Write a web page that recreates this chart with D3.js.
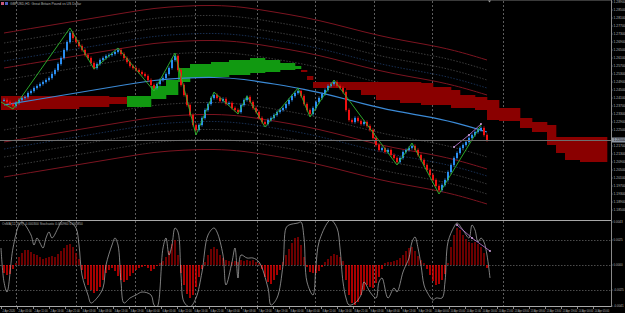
<!DOCTYPE html>
<html>
<head>
<meta charset="utf-8">
<script src="https://cdn.jsdelivr.net/npm/d3@7"></script>
<style>
body { margin: 0; background: #000; overflow: hidden; }
text { font-family: "Liberation Sans", Arial, sans-serif; }
</style>
</head>
<body>
<div id="chart"></div>
<script>
// ---- data (GBPUSD H1) ----
var closes = [
  1.2400,1.2390,1.2380,1.2370,
  1.2385,1.2400,1.2410,1.2415,1.2435,1.2445,1.2460,1.2470,1.2480,1.2490,1.2500,1.2510,1.2530,1.2550,1.2580,1.2610,1.2650,1.2690,1.2735,
  1.2710,1.2690,1.2670,1.2650,1.2625,1.2610,1.2585,1.2560,
  1.2580,1.2600,1.2610,1.2620,1.2625,1.2630,1.2640,1.2650,
  1.2630,1.2610,1.2590,1.2570,1.2560,1.2550,1.2540,1.2530,1.2520,1.2500,1.2475,1.2460,
  1.2480,1.2500,1.2510,1.2530,1.2560,1.2600,1.2620,
  1.2550,1.2475,1.2425,1.2375,1.2325,1.2275,1.2250,
  1.2275,1.2310,1.2350,1.2380,1.2410,1.2425,
  1.2410,1.2395,1.2405,1.2380,1.2385,1.2360,1.2350,1.2340,
  1.2375,1.2400,1.2415,
  1.2390,1.2360,1.2340,1.2310,1.2290,1.2280,
  1.2300,1.2310,1.2325,1.2340,1.2350,1.2360,1.2380,1.2400,1.2420,1.2435,1.2445,
  1.2420,1.2380,1.2350,1.2330,
  1.2360,1.2390,1.2410,1.2430,1.2450,1.2470,1.2480,1.2490,
  1.2470,1.2460,1.2440,1.2350,1.2300,1.2290,1.2310,1.2295,1.2280,1.2290,1.2270,1.2250,1.2210,1.2175,1.2150,1.2160,1.2140,1.2150,1.2125,1.2110,1.2090,
  1.2110,1.2140,1.2150,1.2160,1.2170,
  1.2150,1.2125,1.2100,1.2075,1.2050,1.2025,1.2000,1.1970,1.1950,
  1.1975,1.2000,1.2040,1.2075,1.2110,1.2135,1.2160,1.2175,1.2190,1.2210,1.2225,1.2240,1.2250,1.2260,
  1.2225,1.2200
];

// moving average (every 10 bars)
var maIdx = [0,10,20,30,40,50,60,70,80,90,100,110,120,130,140,150,161];
var maVal = [1.2375,1.2400,1.2425,1.2450,1.2475,1.2500,1.2510,1.2515,1.2505,1.2480,1.2455,1.2420,1.2380,1.2345,1.2320,1.2290,1.2240];

// envelope distances from the MA
var bandOffsets = [0.0360, 0.0310, 0.0260, 0.0220, 0.0185, 0.0125];
var bandKinds   = ["main", "dot", "dot", "blue", "main", "dot"];

// ichimoku cloud (shifted forward)
var cloudIdx = [-1,12,25,35,41,49,54,58,62,69,75,82,87,92,97,99,101,103,109,114,119,124,132,139,143,149,152,157,161,165,172,176,181,184,187,192,201];
var spanA = [1.2350,1.2355,1.2365,1.2380,1.2420,1.2470,1.2500,1.2560,1.2580,1.2590,1.2600,1.2610,1.2600,1.2585,1.2570,1.2540,1.2500,1.2460,1.2460,1.2450,1.2425,1.2400,1.2385,1.2375,1.2375,1.2360,1.2360,1.2350,1.2300,1.2295,1.2260,1.2240,1.2175,1.2135,1.2100,1.2090,1.2100];
var spanB = [1.2420,1.2420,1.2420,1.2415,1.2365,1.2405,1.2425,1.2490,1.2510,1.2515,1.2525,1.2535,1.2540,1.2550,1.2555,1.2550,1.2520,1.2490,1.2490,1.2490,1.2490,1.2490,1.2490,1.2485,1.2465,1.2450,1.2425,1.2415,1.2400,1.2360,1.2310,1.2290,1.2275,1.2215,1.2215,1.2215,1.2215];

// zigzag pivots
var zzIdx = [-1,3,22,30,38,50,57,64,70,78,81,87,98,102,110,131,136,145,159];
var zzVal = [1.2390,1.2355,1.2760,1.2555,1.2660,1.2445,1.2635,1.2225,1.2440,1.2330,1.2420,1.2265,1.2460,1.2315,1.2500,1.2075,1.2185,1.1930,1.2275];

// divergence marks
var divMainIdx = [150, 155, 159];
var divMainVal = [1.2165, 1.2225, 1.2280];
var divIndIdx = [151, 156, 162];
var divIndVal = [40, 27, 14];

// oscillator histogram (points)
var hist = [
  -8,-10,-9,-4,2,8,12,15,15,13,
  11,10,8,6,7,8,9,8,11,14,
  17,20,21,18,12,6,-5,-14,-20,-25,
  -28,-26,-22,-15,-8,-5,-3,-6,-11,-15,
  -17,-15,-11,-8,-5,-3,-2,-1,-3,-6,
  -4,-1,2,4,8,14,21,25,10,-8,
  -20,-29,-33,-30,-22,-12,-4,3,10,16,
  18,16,10,7,5,4,3,4,3,5,
  4,5,4,5,3,2,-4,-12,-17,-19,
  -15,-10,-5,3,10,16,22,27,28,20,
  8,-2,-7,-8,-8,-6,-2,3,6,9,
  11,10,8,4,-15,-30,-38,-40,-37,-30,
  -25,-20,-22,-23,-18,-12,-4,2,3,3,
  4,5,7,10,14,17,18,14,9,5,
  2,-4,-10,-16,-20,-19,-15,-9,2,18,
  30,37,35,30,26,23,22,23,21,18,
  12,-3
];

// signal line (points)
var oscIdx = [-1,0,1,3,5,6,9,10,11,12,13,14,15,16,18,19,20,22,24,25,26,28,29,31,33,34,36,37,38,39,40,42,44,46,49,50,51,53,54,55,56,57,58,59,60,62,64,66,68,70,71,73,74,76,77,78,79,81,83,85,88,89,91,93,94,95,98,
  99,100,101,103,104,105,108,109,111,112,113,114,115,117,119,120,122,124,125,126,128,130,131,133,134,135,136,137,138,139,140,141,143,144,146,147,148,150,151,153,155,156,157,158,159,160,161,162];
var oscVal = [17,-17,-27,17,40,43,30,20,27,22,17,27,33,27,37,43,45,43,37,20,-10,-30,-38,-33,-23,0,20,27,20,-17,-38,-33,-30,-27,-30,-40,-42,17,27,10,20,37,33,-10,-37,-42,-33,-7,30,37,33,10,-20,3,17,-13,10,7,7,3,-23,-40,-33,0,37,40,42,
  43,27,-17,-30,0,23,43,45,37,17,-17,-33,-40,-38,-30,-17,-27,-33,-17,-13,-33,-23,-27,-7,0,7,23,28,17,0,-20,-27,-35,-33,-33,-17,23,38,42,35,27,40,35,23,27,23,10,-13];

var indLevels = [25, 0, -25];
var indTicks = [43, 25, 0, -25, -41];

var priceTicks = [1.2890,1.2850,1.2810,1.2770,1.2730,1.2690,1.2650,1.2610,1.2570,1.2530,1.2490,1.2450,1.2410,1.2370,1.2330,1.2290,1.2250,1.2210,1.2170,1.2130,1.2090,1.2050,1.2010,1.1970,1.1930,1.1890,1.1850];

var daySeparators = [4, 24, 43.7, 63.7, 84.3, 103.7, 123.3, 142.7, 166.3];

var timeLabels = ["2 Apr 2020","2 Apr 05:00","2 Apr 11:00","2 Apr 16:00","2 Apr 21:00","3 Apr 03:00","3 Apr 08:00","3 Apr 13:00","3 Apr 19:00","6 Apr 00:00",
  "6 Apr 05:00","6 Apr 11:00","6 Apr 16:00","6 Apr 21:00","7 Apr 03:00","7 Apr 08:00","7 Apr 13:00","7 Apr 19:00","8 Apr 00:00","8 Apr 05:00",
  "8 Apr 11:00","8 Apr 16:00","8 Apr 21:00","9 Apr 03:00","9 Apr 08:00","9 Apr 13:00","9 Apr 19:00","10 Apr 00:00","10 Apr 05:00","10 Apr 11:00",
  "10 Apr 16:00","10 Apr 21:00","13 Apr 03:00","13 Apr 08:00","13 Apr 13:00","13 Apr 19:00","14 Apr 00:00","14 Apr 05:00"];

// ---- layout ----
var width = 625, height = 313;
var plotRight = 611;
var mainBottom = 219;
var indTop = 221, indBottom = 306;

var svg = d3.select("#chart")
  .append("svg")
  .attr("width", width)
  .attr("height", height)
  .style("display", "block")
  .style("background", "#000");

var xScale = d3.scaleLinear().domain([0, 161]).range([4, 487]);
var yMain = d3.scaleLinear().domain([1.1805, 1.29]).range([mainBottom, 0]);
var yInd = d3.scaleLinear().domain([-41, 44]).range([indBottom, indTop]);

var defs = svg.append("defs");
defs.append("clipPath").attr("id", "clipMain")
  .append("rect").attr("x", 0).attr("y", 0).attr("width", plotRight).attr("height", mainBottom);
defs.append("clipPath").attr("id", "clipInd")
  .append("rect").attr("x", 0).attr("y", indTop).attr("width", plotRight).attr("height", indBottom - indTop);

// top border
svg.append("line").attr("x1", 0).attr("x2", plotRight).attr("y1", 0.5).attr("y2", 0.5)
  .attr("stroke", "#3a3a3a");

// day separators
svg.append("g").selectAll("line")
  .data(daySeparators)
  .enter().append("line")
  .attr("x1", function(d){ return Math.round(xScale(d)) + 0.5; })
  .attr("x2", function(d){ return Math.round(xScale(d)) + 0.5; })
  .attr("y1", 1).attr("y2", indBottom)
  .attr("stroke", "#5c5c5c")
  .attr("stroke-dasharray", "2,2");

var mainG = svg.append("g").attr("clip-path", "url(#clipMain)");

// envelope bands
var bandLine = d3.line()
  .x(function(d){ return xScale(d[0]); })
  .y(function(d){ return yMain(d[1]); })
  .curve(d3.curveBasis);

bandOffsets.forEach(function(off, k){
  [1, -1].forEach(function(sign){
    var pts = maIdx.map(function(ix, j){ return [ix, maVal[j] + sign * off]; });
    var kind = bandKinds[k];
    mainG.append("path")
      .attr("d", bandLine(pts))
      .attr("fill", "none")
      .attr("stroke", kind == "main" ? "#7c1420" : (kind == "blue" ? "#1d3a66" : "#4a4a4a"))
      .attr("stroke-width", kind == "main" ? 1 : 0.8)
      .attr("stroke-dasharray", kind == "main" ? null : "1.5,1.5");
  });
});

// cloud
var cloud = cloudIdx.slice(0, -1).map(function(ix, j){
  return {x0: ix, x1: cloudIdx[j+1], a: spanA[j], b: spanB[j]};
});
mainG.append("g").selectAll("rect")
  .data(cloud)
  .enter().append("rect")
  .attr("x", function(d){ return xScale(d.x0); })
  .attr("width", function(d){ return xScale(d.x1) - xScale(d.x0) + 0.3; })
  .attr("y", function(d){ return yMain(Math.max(d.a, d.b)); })
  .attr("height", function(d){ return Math.abs(yMain(d.a) - yMain(d.b)); })
  .attr("fill", function(d){ return d.a > d.b ? "#119911" : "#8a0000"; });

// bid line
var lastClose = closes[closes.length - 1];
svg.append("line")
  .attr("x1", 0).attr("x2", plotRight)
  .attr("y1", Math.round(yMain(lastClose)) + 0.5).attr("y2", Math.round(yMain(lastClose)) + 0.5)
  .attr("stroke", "#6f6f6f");

// moving average
mainG.append("path")
  .attr("d", bandLine(maIdx.map(function(ix, j){ return [ix, maVal[j]]; })))
  .attr("fill", "none")
  .attr("stroke", "#3b8ad6")
  .attr("stroke-width", 1.2);

// candles
var wick = 0.0008;
var bars = closes.map(function(c, i){ return {i: i, o: i > 0 ? closes[i-1] : c, c: c}; });
function barColor(d){ return d.c >= d.o ? "#2a8df0" : "#f01010"; }

var candles = mainG.append("g").selectAll("g")
  .data(bars)
  .enter().append("g");
candles.append("line")
  .attr("x1", function(d){ return xScale(d.i); })
  .attr("x2", function(d){ return xScale(d.i); })
  .attr("y1", function(d){ return yMain(Math.max(d.o, d.c) + wick); })
  .attr("y2", function(d){ return yMain(Math.min(d.o, d.c) - wick); })
  .attr("stroke", barColor)
  .attr("stroke-width", 0.8);
candles.append("rect")
  .attr("x", function(d){ return xScale(d.i) - 1; })
  .attr("width", 2)
  .attr("y", function(d){ return yMain(Math.max(d.o, d.c)); })
  .attr("height", function(d){ return Math.max(1, Math.abs(yMain(d.o) - yMain(d.c))); })
  .attr("fill", barColor);

// zigzag
mainG.append("path")
  .attr("d", d3.line()
    .x(function(d){ return xScale(d[0]); })
    .y(function(d){ return yMain(d[1]); })(zzIdx.map(function(ix, j){ return [ix, zzVal[j]]; })))
  .attr("fill", "none")
  .attr("stroke", "#2fb82f")
  .attr("stroke-width", 0.9);

// divergence (main)
var divMain = divMainIdx.map(function(ix, j){ return [ix, divMainVal[j]]; });
mainG.append("path")
  .attr("d", d3.line().x(function(d){ return xScale(d[0]); }).y(function(d){ return yMain(d[1]); })(divMain))
  .attr("stroke", "#c77ee0").attr("stroke-width", 0.8).attr("fill", "none");
mainG.selectAll(".dm").data(divMain).enter().append("circle")
  .attr("cx", function(d){ return xScale(d[0]); })
  .attr("cy", function(d){ return yMain(d[1]); })
  .attr("r", 0.9).attr("fill", "#e0b0f0");

// chart title
svg.append("rect").attr("x", 1).attr("y", 2).attr("width", 3).attr("height", 3).attr("fill", "#c85a7a");
svg.append("rect").attr("x", 5).attr("y", 2).attr("width", 3).attr("height", 3).attr("fill", "#4a5ec0");
svg.append("text").attr("x", 10).attr("y", 5).attr("font-size", 3.4).attr("fill", "#b8b8b8")
  .text("GBPUSD,H1:  Great Britain Pound vs US Dollar");

// chart shift marker
svg.append("path")
  .attr("d", "M" + (xScale(161) + 1) + ",0.5 l3,0 l-1.5,2 z")
  .attr("fill", "#9a9a9a");

// ---- indicator panel ----
svg.append("line").attr("x1", 0).attr("x2", plotRight).attr("y1", indTop - 0.5).attr("y2", indTop - 0.5)
  .attr("stroke", "#a8a8a8");
svg.append("line").attr("x1", 0).attr("x2", plotRight).attr("y1", indBottom + 0.5).attr("y2", indBottom + 0.5)
  .attr("stroke", "#a8a8a8");

var indG = svg.append("g").attr("clip-path", "url(#clipInd)");

indG.selectAll(".lvl").data(indLevels).enter().append("line")
  .attr("x1", 0).attr("x2", plotRight)
  .attr("y1", function(d){ return Math.round(yInd(d)) + 0.5; })
  .attr("y2", function(d){ return Math.round(yInd(d)) + 0.5; })
  .attr("stroke", "#4c4c4c")
  .attr("stroke-dasharray", "1.5,1.5");

indG.append("g").selectAll("rect")
  .data(hist)
  .enter().append("rect")
  .attr("x", function(d, i){ return xScale(i) - 0.7; })
  .attr("width", 1.4)
  .attr("y", function(d){ return yInd(Math.max(d, 0)); })
  .attr("height", function(d){ return Math.abs(yInd(d) - yInd(0)); })
  .attr("fill", function(d){ return d >= 0 ? "#9a0000" : "#f00000"; });

indG.append("path")
  .attr("d", d3.line()
    .x(function(d){ return xScale(d[0]); })
    .y(function(d){ return yInd(d[1]); })
    .curve(d3.curveCatmullRom.alpha(0.5))(oscIdx.map(function(ix, j){ return [ix, oscVal[j]]; })))
  .attr("fill", "none")
  .attr("stroke", "#b5b5b5")
  .attr("stroke-width", 0.7);

var divInd = divIndIdx.map(function(ix, j){ return [ix, divIndVal[j]]; });
indG.append("path")
  .attr("d", d3.line().x(function(d){ return xScale(d[0]); }).y(function(d){ return yInd(d[1]); })(divInd))
  .attr("stroke", "#c77ee0").attr("stroke-width", 0.8).attr("fill", "none");
indG.selectAll(".di").data(divInd).enter().append("circle")
  .attr("cx", function(d){ return xScale(d[0]); })
  .attr("cy", function(d){ return yInd(d[1]); })
  .attr("r", 0.9).attr("fill", "#e0b0f0");

svg.append("text").attr("x", 2).attr("y", 225).attr("font-size", 3.2).attr("fill", "#b0b0b0")
  .text("OsMA(12,26,9)  -0.000300  Stochastic 0.000960 0.000850");

// ---- right axis ----
svg.append("line").attr("x1", plotRight + 0.5).attr("x2", plotRight + 0.5).attr("y1", 0).attr("y2", indBottom + 1)
  .attr("stroke", "#8a8a8a");

// labels under the price tag are hidden, as in the terminal
var shownTicks = priceTicks.filter(function(d){ return Math.abs(yMain(d) - yMain(lastClose)) > 5; });
var pAxis = svg.append("g").selectAll("g")
  .data(shownTicks)
  .enter().append("g")
  .attr("transform", function(d){ return "translate(" + plotRight + "," + yMain(d) + ")"; });
pAxis.append("line").attr("x1", 0).attr("x2", 1.5).attr("stroke", "#8a8a8a");
pAxis.append("text").attr("x", 2.5).attr("dy", "0.35em").attr("font-size", 3.4).attr("fill", "#b4b4b4")
  .text(function(d){ return d.toFixed(5); });

// current price tag
svg.append("rect")
  .attr("x", plotRight + 1).attr("y", yMain(lastClose) - 2.5)
  .attr("width", 13).attr("height", 5)
  .attr("fill", "#8d96a3");
svg.append("text").attr("x", plotRight + 2.5).attr("y", yMain(lastClose)).attr("dy", "0.35em")
  .attr("font-size", 3.4).attr("fill", "#101010").text(lastClose.toFixed(5));

var iAxis = svg.append("g").selectAll("g")
  .data(indTicks)
  .enter().append("g")
  .attr("transform", function(d){ return "translate(" + plotRight + "," + yInd(d) + ")"; });
iAxis.append("line").attr("x1", 0).attr("x2", 1.5).attr("stroke", "#8a8a8a");
iAxis.append("text").attr("x", 2.5).attr("dy", "0.35em").attr("font-size", 3.0).attr("fill", "#b4b4b4")
  .text(function(d){ return (d / 10000).toFixed(4); });

// ---- time axis ----
var tAxis = svg.append("g").selectAll("g")
  .data(timeLabels)
  .enter().append("g")
  .attr("transform", function(d, k){ return "translate(" + Math.round(xScale(k * 16 / 3 - 1)) + "," + (indBottom + 1) + ")"; });
tAxis.append("line").attr("x1", 0.5).attr("x2", 0.5).attr("y1", 0).attr("y2", 2).attr("stroke", "#8a8a8a");
tAxis.append("text").attr("x", 1.5).attr("y", 4.8).attr("font-size", 2.6).attr("fill", "#b4b4b4")
  .text(function(d){ return d; });
</script>
</body>
</html>
